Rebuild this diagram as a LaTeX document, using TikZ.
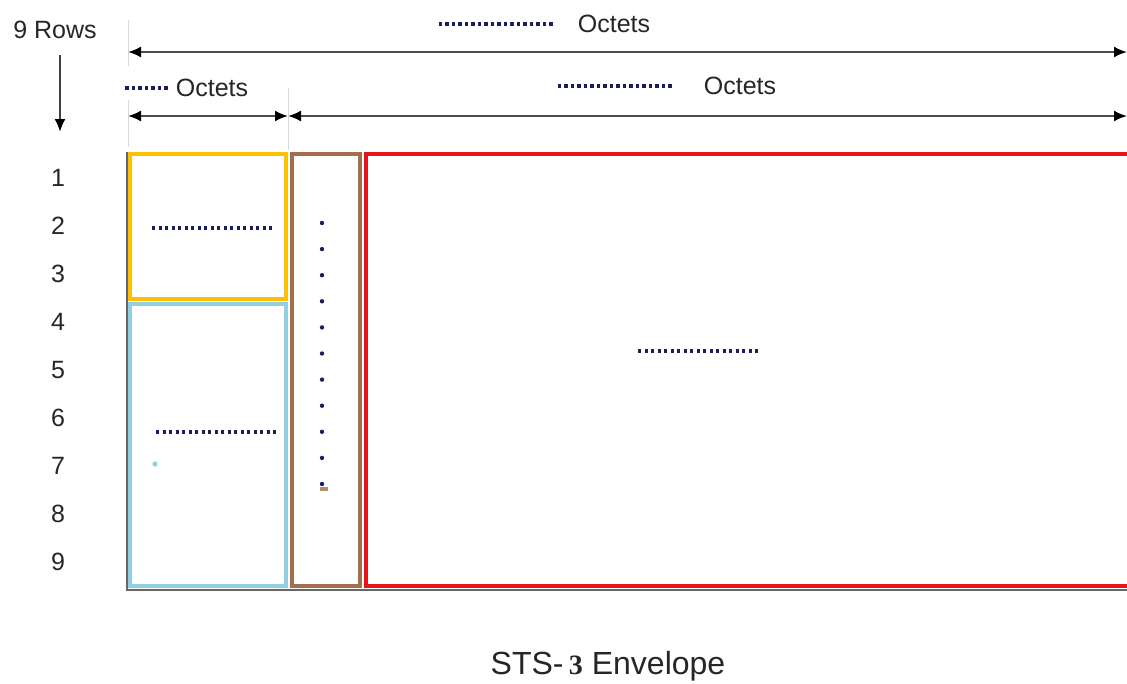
\documentclass[tikz,border=0pt]{standalone}
\usepackage{fontspec}
\setmainfont{Liberation Sans}
\newfontfamily\numfont{Liberation Serif}
\usepackage{xcolor}
\usetikzlibrary{arrows.meta,calc}
\definecolor{sohgold}{HTML}{FFC000}
\definecolor{lohblue}{HTML}{93CFE2}
\definecolor{pohbrown}{HTML}{A46E4C}
\definecolor{spered}{HTML}{E8141C}
\definecolor{dotnavy}{HTML}{1A1F5C}

\begin{document}
\begin{tikzpicture}[x=1pt,y=-1pt,
  every node/.style={font=\fontsize{25}{28}\selectfont,text=black!85,inner sep=0pt},
  frame/.style={draw,line width=4.8pt,fill=white},
  dimline/.style={draw=black!70,line width=2pt,{Latex[length=13pt,width=11pt,color=black]}-{Latex[length=13pt,width=11pt,color=black]}},
  tick/.style={draw=black!15,line width=1pt},
  dots/.style={dotnavy,line width=3.6pt,dash pattern=on 3.4pt off 3.1pt}]
\clip (0,0) rectangle (1127,683);
\fill[white] (0,0) rectangle (1127,683);

\node (rows) at (55,30) {9 Rows};
\coordinate (rowsend) at (60,132);
\draw[draw=black!75,line width=2pt,-{Latex[length=13pt,width=11pt,color=black]}] ([xshift=5pt,yshift=-16pt]rows.south) -- (rowsend);
\foreach \r in {1,...,9}
  \node (row\r) at (58,{178+48*(\r-1)}) {\r};

\node (totlbl) at (614,24) {Octets};
\node (ohlbl) at (212,88) {Octets};
\node (pllbl) at (740,86) {Octets};
\draw[dots] ([xshift=-25pt]totlbl.west) -- ++(-115,0);
\draw[dots] ([xshift=-8pt]ohlbl.west) -- ++(-45,0);
\draw[dots] ([xshift=-32pt]pllbl.west) -- ++(-115,0);

\coordinate (totL) at (128,52);
\coordinate (totR) at (1127,52);
\coordinate (ohL) at (128,116);
\coordinate (ohR) at (288,116);
\coordinate (plR) at (1127,116);
\draw[tick] (128,20) -- (128,66);
\draw[tick] (128,100) -- (128,147);
\draw[tick] (288,88) -- (288,150);
\draw[dimline] (totL) -- (totR);
\draw[dimline] (ohL) -- (ohR);
\draw[dimline] (ohR) -- (plR);

\draw[black!60,line width=1.6pt] (127,152) |- (1127,590);
\node[frame,draw=sohgold,minimum width=156pt,minimum height=145pt] (sohbox) at (208,226.5) {};
\node[frame,draw=lohblue,minimum width=156pt,minimum height=282pt] (lohbox) at (208,445) {};
\node[frame,draw=pohbrown,minimum width=68pt,minimum height=432pt] (pohbox) at (326,370) {};
\node[frame,draw=spered,minimum width=768pt,minimum height=432pt] (payload) at (750,370) {};

\draw[dots] (152,228) -- (272,228);
\draw[dots] (156,432) -- (276,432);
\draw[dots] (638,351) -- (758,351);
\foreach \k in {0,...,10}
  \fill[dotnavy] (322,{223+26.1*\k}) circle (2.2pt);
\fill[lohblue] (155,464) circle (2.6pt);
\fill[pohbrown!80] (320,487) rectangle (328,491);

\node[font=\fontsize{32}{36}\selectfont] (title) at (608,666) {STS-\,{\numfont\bfseries\fontsize{28}{32}\selectfont 3} Envelope};
\end{tikzpicture}
\end{document}
